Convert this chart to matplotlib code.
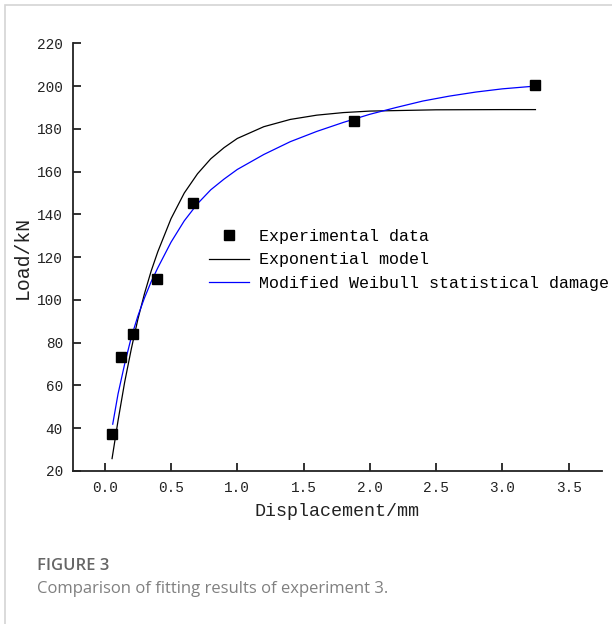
import matplotlib
matplotlib.use('Agg')
import matplotlib.pyplot as plt
from matplotlib.patches import Rectangle


# experimental points (displacement mm, load kN)
exp_x = [0.058, 0.122, 0.21, 0.393, 0.668, 1.879, 3.243]
exp_y = [37.2, 73.2, 84.1, 109.9, 145.2, 183.8, 200.5]

# exponential model curve
expo_x = [0.055, 0.1, 0.15, 0.2, 0.25, 0.3, 0.35, 0.4, 0.5, 0.6, 0.7, 0.8,
          0.9, 1.0, 1.2, 1.4, 1.6, 1.8, 2.0, 2.5, 3.0, 3.25]
expo_y = [25.8, 43.5, 61.5, 77.0, 91.0, 103.0, 113.5, 122.5, 138.0, 150.0,
          159.0, 166.0, 171.2, 175.5, 181.0, 184.4, 186.4, 187.6, 188.3,
          188.9, 189.0, 189.0]

# modified weibull statistical damage curve
weib_x = [0.06, 0.1, 0.15, 0.2, 0.25, 0.3, 0.35, 0.4, 0.5, 0.6, 0.7, 0.8,
          0.9, 1.0, 1.2, 1.4, 1.6, 1.8, 2.0, 2.2, 2.4, 2.6, 2.8, 3.0, 3.25]
weib_y = [41.9, 56.0, 70.0, 82.5, 92.5, 101.0, 108.5, 115.0, 127.0, 137.0,
          145.0, 151.5, 156.5, 161.0, 168.0, 174.0, 178.8, 183.0, 186.8,
          190.0, 193.0, 195.3, 197.2, 198.7, 200.0]

x_ticks = [0.0, 0.5, 1.0, 1.5, 2.0, 2.5, 3.0, 3.5]
y_ticks = [20, 40, 60, 80, 100, 120, 140, 160, 180, 200, 220]

mono = 'Liberation Mono'

fig = plt.figure(figsize=(6.12, 6.24), dpi=100)

# light frame around the figure panel
fig.patches.append(Rectangle((4.5 / 612, -0.1), 1.2, (624 - 5.0) / 624 + 0.1,
                             transform=fig.transFigure, fill=False,
                             edgecolor='#d4d4d4', linewidth=1.2))

ax = fig.add_axes([72.7 / 612, (624 - 471) / 624, (601.7 - 72.7) / 612,
                   (471 - 43.3) / 624])

ax.plot(exp_x, exp_y, 's', color='black', markersize=6.5, linestyle='none',
        label='Experimental data', zorder=3)
ax.plot(expo_x, expo_y, color='black', linewidth=0.9, label='Exponential model')
ax.plot(weib_x, weib_y, color='#0000ff', linewidth=0.9,
        label='Modified Weibull statistical damage')

ax.set_xlim(-0.242, 3.75)
ax.set_ylim(20, 220)
ax.set_xticks(x_ticks)
ax.set_yticks(y_ticks)
ax.set_xticklabels(['%.1f' % v for v in x_ticks], fontfamily=mono, fontsize=10.4)
ax.set_yticklabels([str(v) for v in y_ticks], fontfamily=mono, fontsize=10.4)

for s in ['top', 'right']:
    ax.spines[s].set_visible(False)
for s in ['left', 'bottom']:
    ax.spines[s].set_linewidth(1.3)
    ax.spines[s].set_color('#222222')
ax.tick_params(direction='in', length=6, width=1.3, color='#222222',
               labelcolor='#222222', pad=7)

ax.set_xlabel('Displacement/mm', fontfamily=mono, fontsize=13.2,
              color='#222222', labelpad=6)
ax.set_ylabel('Load/kN', fontfamily=mono, fontsize=14.2, color='#222222',
              labelpad=4)

leg = ax.legend(loc='upper left', bbox_to_anchor=(209 / 612, (624 - 229) / 624),
                bbox_transform=fig.transFigure, frameon=False,
                prop={'family': mono, 'size': 12}, handlelength=2.4,
                handletextpad=0.6, labelspacing=0.5, borderpad=0,
                borderaxespad=0, markerscale=1.0)

fig.text(37 / 612, 1 - 566 / 624, 'FIGURE 3', fontfamily='Open Sans',
         fontweight='semibold', fontsize=12, color='#666666', va='center')
fig.text(37 / 612, 1 - 589 / 624,
         'Comparison of fitting results of experiment 3.',
         fontfamily='Open Sans', fontsize=12, color='#808080', va='center')

fig.savefig('out.png', dpi=100)
